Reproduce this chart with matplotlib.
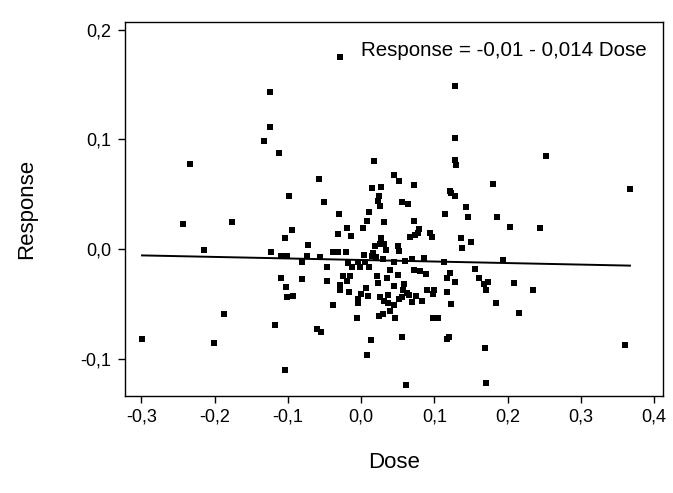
import numpy as np
import matplotlib
matplotlib.use('Agg')
import matplotlib.pyplot as plt
from matplotlib.ticker import FuncFormatter

plt.rcParams['font.family'] = ['Liberation Sans', 'DejaVu Sans']

# Data
dose = [
    -0.029, -0.124, -0.124, -0.132, 0.128, 0.128,
    -0.233, -0.243, -0.176, -0.214,
    -0.112, 0.018, -0.057, 0.045, -0.098, 0.015, 0.027, -0.051, 0.025, 0.023,
    0.026, -0.030, 0.011, 0.008, 0.031, -0.094, -0.019, 0.003, -0.104, -0.031,
    -0.014, -0.072, 0.027, 0.019, 0.026, 0.031, -0.123, -0.038, -0.031, -0.021,
    0.004, 0.034, -0.109, -0.101, -0.074, -0.056, 0.016, 0.015, 0.021, -0.081,
    -0.046, -0.018, -0.012, -0.004, -0.001, 0.006, 0.011, 0.030, 0.045, 0.040,
    0.128, 0.130, 0.052, 0.072, 0.180, 0.121, 0.123, 0.128, 0.056, 0.064,
    0.143, 0.115, 0.146, 0.186, 0.072, 0.203, 0.079, 0.078, 0.074, 0.067,
    0.094, 0.097, 0.136, 0.150, 0.051, 0.138, 0.052, 0.060, 0.070, 0.086,
    0.113, 0.194, 0.156, 0.072, 0.081,
    0.252, 0.367, 0.244,
    -0.187, -0.299, -0.201,
    -0.109, -0.081, -0.046, -0.025, -0.015, -0.019, -0.029, -0.029, -0.102, -0.101,
    -0.093, -0.016, 0.022, 0.023, 0.036, 0.045, 0.007, 0.000, 0.010, -0.004,
    -0.004, 0.026, 0.031, 0.037, 0.037, 0.045, 0.040, -0.038, 0.025, 0.030,
    -0.006, 0.046, -0.117, -0.060, -0.055, 0.014, 0.008, -0.104,
    0.051, 0.121, 0.117, 0.089, 0.161, 0.128, 0.059, 0.168, 0.173, 0.171,
    0.209, 0.090, 0.100, 0.098, 0.117, 0.057, 0.063, 0.066, 0.056, 0.052,
    0.070, 0.075, 0.083, 0.123, 0.184, 0.216, 0.098, 0.105, 0.056, 0.120,
    0.117, 0.169, 0.061, 0.171,
    0.235, 0.360,
]
response = [
    0.175, 0.143, 0.111, 0.099, 0.149, 0.101,
    0.078, 0.023, 0.025, -0.001,
    0.088, 0.080, 0.064, 0.068, 0.048, 0.056, 0.057, 0.043, 0.048, 0.044,
    0.039, 0.032, 0.034, 0.026, 0.025, 0.017, 0.019, 0.019, 0.010, 0.014,
    0.012, 0.004, 0.010, 0.003, 0.005, 0.005, -0.003, -0.003, -0.003, -0.003,
    -0.005, -0.001, -0.006, -0.006, -0.006, -0.007, -0.004, -0.006, -0.007, -0.012,
    -0.016, -0.013, -0.016, -0.012, -0.016, -0.012, -0.016, -0.009, -0.012, -0.019,
    0.081, 0.077, 0.062, 0.058, 0.059, 0.053, 0.051, 0.048, 0.043, 0.041,
    0.038, 0.032, 0.029, 0.029, 0.026, 0.020, 0.018, 0.015, 0.013, 0.011,
    0.015, 0.011, 0.010, 0.006, 0.003, 0.001, -0.002, -0.011, -0.009, -0.008,
    -0.012, -0.010, -0.018, -0.019, -0.020,
    0.085, 0.055, 0.019,
    -0.059, -0.082, -0.086,
    -0.026, -0.027, -0.029, -0.025, -0.025, -0.029, -0.033, -0.037, -0.035, -0.044,
    -0.043, -0.039, -0.025, -0.031, -0.026, -0.034, -0.036, -0.041, -0.043, -0.046,
    -0.049, -0.044, -0.047, -0.042, -0.049, -0.051, -0.057, -0.051, -0.061, -0.059,
    -0.063, -0.063, -0.069, -0.073, -0.076, -0.083, -0.097, -0.110,
    -0.024, -0.022, -0.026, -0.023, -0.026, -0.030, -0.032, -0.032, -0.030, -0.037,
    -0.031, -0.037, -0.037, -0.041, -0.039, -0.037, -0.040, -0.042, -0.044, -0.046,
    -0.048, -0.043, -0.047, -0.050, -0.049, -0.058, -0.063, -0.063, -0.080, -0.080,
    -0.082, -0.090, -0.124, -0.122,
    -0.037, -0.088,
]

intercept = -0.01
slope = -0.014


def comma_fmt(v, pos):
    s = f'{v:.1f}'.replace('.', ',')
    if s == '-0,0':
        s = '0,0'
    return s


fig = plt.figure(figsize=(6.73, 4.93), dpi=100)
ax = fig.add_axes([0.186, 0.197, 0.799, 0.758])

ax.scatter(dose, response, marker='s', s=16, color='black', linewidths=0)

# fitted line over the range of the data
xl = np.array([min(dose), max(dose)])
ax.plot(xl, intercept + slope * xl, color='black', linewidth=1.4)

ax.set_xlim(-0.322, 0.412)
ax.set_ylim(-0.134, 0.207)
ax.set_xticks(np.arange(-0.3, 0.41, 0.1))
ax.set_yticks([-0.1, 0.0, 0.1, 0.2])
ax.xaxis.set_major_formatter(FuncFormatter(comma_fmt))
ax.yaxis.set_major_formatter(FuncFormatter(comma_fmt))
ax.tick_params(labelsize=13, length=5, width=1, direction='out', color='black')
ax.tick_params(axis='x', pad=4)
ax.tick_params(axis='y', pad=5)

for sp in ax.spines.values():
    sp.set_linewidth(1)
    sp.set_color('black')

ax.set_xlabel('Dose', fontsize=16, labelpad=19)
ax.set_ylabel('Response', fontsize=16, labelpad=31)

ax.text(0.97, 0.925, 'Response = -0,01 - 0,014 Dose', transform=ax.transAxes,
        ha='right', va='center', fontsize=14.8)

fig.savefig('out.png', dpi=100)
